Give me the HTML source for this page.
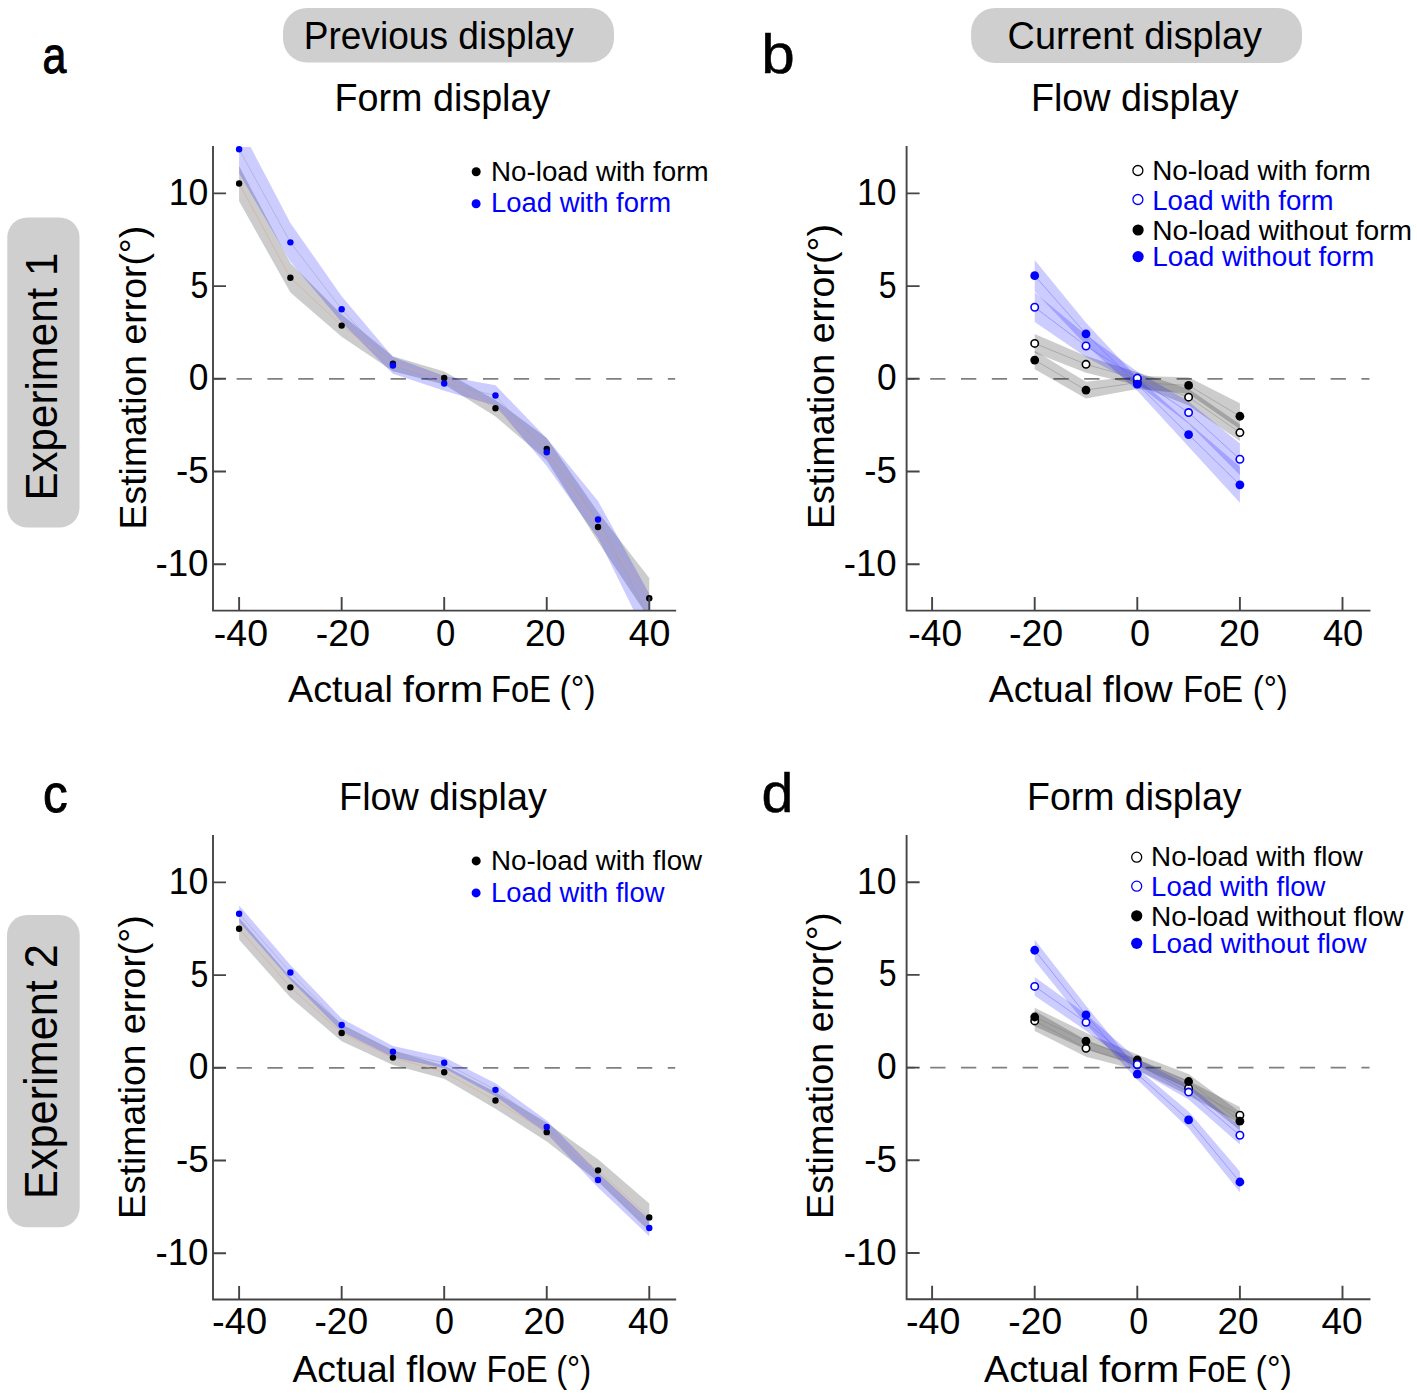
<!DOCTYPE html>
<html><head><meta charset="utf-8"><title>Figure</title>
<style>html,body{margin:0;padding:0;background:#fff;}svg{display:block;}text{font-family:"Liberation Sans",sans-serif;}</style>
</head><body>
<svg width="1417" height="1396" viewBox="0 0 1417 1396">
<rect width="1417" height="1396" fill="#fff"/>
<rect x="283" y="8" width="331" height="54.5" rx="24" fill="#cfcfcf"/>
<rect x="971.1" y="7.9" width="330.9" height="55.1" rx="24" fill="#cfcfcf"/>
<rect x="7.3" y="217.5" width="72.2" height="310.1" rx="20" fill="#cfcfcf"/>
<rect x="7.0" y="915.1" width="72.7" height="312.2" rx="20" fill="#cfcfcf"/>
<text x="-3.13" y="0" font-size="39.13" fill="#000000" transform="translate(306.6,48.9) scale(0.9483,1)">Previous display</text>
<text x="-1.97" y="0" font-size="39.42" fill="#000000" transform="translate(1009.5,48.9) scale(0.9596,1)">Current display</text>
<text x="-3.11" y="0" font-size="38.84" fill="#000000" transform="translate(337.6,110.9) scale(0.9705,1)">Form display</text>
<text x="-3.18" y="0" font-size="39.71" fill="#000000" transform="translate(1033.9,111.3) scale(0.9511,1)">Flow display</text>
<text x="-3.07" y="0" font-size="38.41" fill="#000000" transform="translate(342.1,810.3) scale(0.9829,1)">Flow display</text>
<text x="-3.11" y="0" font-size="38.84" fill="#000000" transform="translate(1030,810.4) scale(0.9650,1)">Form display</text>
<text x="-2.3" y="0" font-size="51.09" fill="#000000" stroke="#000000" stroke-width="1.0" stroke-linejoin="round" transform="translate(44.5,72.89) scale(0.8405,1)">a</text>
<text x="-3.66" y="0" font-size="56.33" fill="#000000" stroke="#000000" stroke-width="0.5" stroke-linejoin="round" transform="translate(765.25,73.09) scale(1.0692,1)">b</text>
<text x="-2.35" y="0" font-size="52.18" fill="#000000" stroke="#000000" stroke-width="1.0" stroke-linejoin="round" transform="translate(45.2,811.58) scale(0.9448,1)">c</text>
<text x="-2.25" y="0" font-size="56.19" fill="#000000" stroke="#000000" stroke-width="0.5" stroke-linejoin="round" transform="translate(763.75,811.79) scale(1.0203,1)">d</text>
<text x="-2.24" y="0" font-size="27.97" fill="#000000" transform="translate(493.2,180.5) scale(0.9930,1)">No-load with form</text>
<text x="-2.24" y="0" font-size="27.97" fill="#0000ff" transform="translate(493.2,212.4) scale(0.9816,1)">Load with form</text>
<text x="-2.24" y="0" font-size="27.97" fill="#000000" transform="translate(1154.4,180.1) scale(0.9977,1)">No-load with form</text>
<text x="-2.24" y="0" font-size="27.97" fill="#0000ff" transform="translate(1154.4,209.8) scale(0.9889,1)">Load with form</text>
<text x="-2.24" y="0" font-size="27.97" fill="#000000" transform="translate(1154.4,239.5) scale(1.0076,1)">No-load without form</text>
<text x="-2.24" y="0" font-size="27.97" fill="#0000ff" transform="translate(1154.4,265.5) scale(0.9995,1)">Load without form</text>
<text x="-2.24" y="0" font-size="27.97" fill="#000000" transform="translate(493.2,869.6) scale(0.9916,1)">No-load with flow</text>
<text x="-2.24" y="0" font-size="27.97" fill="#0000ff" transform="translate(493.2,902) scale(0.9789,1)">Load with flow</text>
<text x="-2.24" y="0" font-size="27.97" fill="#000000" transform="translate(1153.3,865.8) scale(0.9950,1)">No-load with flow</text>
<text x="-2.24" y="0" font-size="27.97" fill="#0000ff" transform="translate(1153.3,895.9) scale(0.9840,1)">Load with flow</text>
<text x="-2.24" y="0" font-size="27.97" fill="#000000" transform="translate(1153.3,926) scale(1.0022,1)">No-load without flow</text>
<text x="-2.24" y="0" font-size="27.97" fill="#0000ff" transform="translate(1153.3,952.6) scale(0.9973,1)">Load without flow</text>
<text x="-0.19" y="0" font-size="37.68" fill="#000000" transform="translate(288.2,701.6) scale(1.0008,1)">Actual</text>
<text x="-0.57" y="0" font-size="37.68" fill="#000000" transform="translate(403.4,701.6) scale(1.0684,1)">form</text>
<text x="-3.01" y="0" font-size="37.68" fill="#000000" transform="translate(493.7,701.6) scale(0.8675,1)">FoE</text>
<text x="-2.26" y="0" font-size="37.68" fill="#000000" transform="translate(561.5,701.6) scale(0.9015,1)">(°)</text>
<text x="-0.19" y="0" font-size="37.68" fill="#000000" transform="translate(988.9,701.8) scale(0.9940,1)">Actual</text>
<text x="-0.57" y="0" font-size="37.68" fill="#000000" transform="translate(1103.4,701.8) scale(1.0435,1)">flow</text>
<text x="-3.01" y="0" font-size="37.68" fill="#000000" transform="translate(1185.8,701.8) scale(0.8675,1)">FoE</text>
<text x="-2.26" y="0" font-size="37.68" fill="#000000" transform="translate(1254.7,701.8) scale(0.8706,1)">(°)</text>
<text x="-0.19" y="0" font-size="37.68" fill="#000000" transform="translate(292.7,1381.6) scale(0.9891,1)">Actual</text>
<text x="-0.57" y="0" font-size="37.68" fill="#000000" transform="translate(406.8,1381.6) scale(1.0435,1)">flow</text>
<text x="-3.01" y="0" font-size="37.68" fill="#000000" transform="translate(489.2,1381.6) scale(0.8846,1)">FoE</text>
<text x="-2.26" y="0" font-size="37.68" fill="#000000" transform="translate(558.1,1381.6) scale(0.8706,1)">(°)</text>
<text x="-0.19" y="0" font-size="37.68" fill="#000000" transform="translate(984.3,1381.6) scale(1.0008,1)">Actual</text>
<text x="-0.57" y="0" font-size="37.68" fill="#000000" transform="translate(1099.5,1381.6) scale(1.0684,1)">form</text>
<text x="-3.01" y="0" font-size="37.68" fill="#000000" transform="translate(1189.8,1381.6) scale(0.8675,1)">FoE</text>
<text x="-2.26" y="0" font-size="37.68" fill="#000000" transform="translate(1257.6,1381.6) scale(0.9015,1)">(°)</text>
<text x="-2.96" y="0" font-size="36.96" fill="#000000" transform="translate(146.1,526.4) rotate(-90) scale(1.0118,1)">Estimation error(°)</text>
<text x="-2.96" y="0" font-size="36.96" fill="#000000" transform="translate(833.8,526.1) rotate(-90) scale(1.0166,1)">Estimation error(°)</text>
<text x="-2.91" y="0" font-size="36.38" fill="#000000" transform="translate(145,1216) rotate(-90) scale(1.0279,1)">Estimation error(°)</text>
<text x="-2.97" y="0" font-size="37.1" fill="#000000" transform="translate(833,1215.9) rotate(-90) scale(1.0170,1)">Estimation error(°)</text>
<text x="-3.58" y="0" font-size="44.78" fill="#000000" transform="translate(57.2,497.1) rotate(-90) scale(0.9393,1)">Experiment 1</text>
<text x="-3.72" y="0" font-size="46.52" fill="#000000" transform="translate(57.2,1195.5) rotate(-90) scale(0.9296,1)">Experiment 2</text>
<clipPath id="clipa"><rect x="213" y="147" width="462.2" height="463.6"/></clipPath>
<line x1="213" y1="378.8" x2="675.2" y2="378.8" stroke="#808080" stroke-width="1.8" stroke-dasharray="15.3 15.5" stroke-dashoffset="7.2"/>
<g clip-path="url(#clipa)">
<polygon points="239.12,165.96 290.39,262.93 341.66,314.47 392.93,356.37 444.2,371.57 495.47,399.94 546.74,437.94 598.01,512.1 649.28,577.92 649.28,618.71 598.01,541.77 546.74,460.19 495.47,416.62 444.2,384.55 392.93,371.2 341.66,336.71 290.39,292.59 239.12,201.19" fill="#000000" fill-opacity="0.2"/>
<polygon points="239.12,125.17 290.39,222.88 341.66,296.3 392.93,357.11 444.2,376.02 495.47,385.29 546.74,438.31 598.01,500.98 649.28,593.86 649.28,642.07 598.01,538.06 546.74,466.12 495.47,405.68 444.2,390.85 392.93,373.79 341.66,322.25 290.39,261.81 239.12,173.38" fill="#0000ff" fill-opacity="0.2"/>
<polyline points="239.12,183.57 290.39,277.76 341.66,325.59 392.93,363.78 444.2,378.06 495.47,408.28 546.74,449.07 598.01,526.93 649.28,598.31" fill="none" stroke="#e8a080" stroke-opacity="0.5" stroke-width="1"/>
<polyline points="239.12,149.27 290.39,242.35 341.66,309.28 392.93,365.45 444.2,383.44 495.47,395.49 546.74,452.22 598.01,519.52 649.28,617.97" fill="none" stroke="#a0a0c0" stroke-opacity="0.5" stroke-width="1"/>
</g>
<circle cx="239.12" cy="183.57" r="3.2" fill="#000000"/>
<circle cx="290.39" cy="277.76" r="3.2" fill="#000000"/>
<circle cx="341.66" cy="325.59" r="3.2" fill="#000000"/>
<circle cx="392.93" cy="363.78" r="3.2" fill="#000000"/>
<circle cx="444.2" cy="378.06" r="3.2" fill="#000000"/>
<circle cx="495.47" cy="408.28" r="3.2" fill="#000000"/>
<circle cx="546.74" cy="449.07" r="3.2" fill="#000000"/>
<circle cx="598.01" cy="526.93" r="3.2" fill="#000000"/>
<circle cx="649.28" cy="598.31" r="3.2" fill="#000000"/>
<circle cx="239.12" cy="149.27" r="3.2" fill="#0000ff"/>
<circle cx="290.39" cy="242.35" r="3.2" fill="#0000ff"/>
<circle cx="341.66" cy="309.28" r="3.2" fill="#0000ff"/>
<circle cx="392.93" cy="365.45" r="3.2" fill="#0000ff"/>
<circle cx="444.2" cy="383.44" r="3.2" fill="#0000ff"/>
<circle cx="495.47" cy="395.49" r="3.2" fill="#0000ff"/>
<circle cx="546.74" cy="452.22" r="3.2" fill="#0000ff"/>
<circle cx="598.01" cy="519.52" r="3.2" fill="#0000ff"/>
<path d="M213,147V610.6H675.2" fill="none" stroke="#454545" stroke-width="1.9" stroke-linecap="square"/>
<path d="M239.12,610.6v-13.5M341.66,610.6v-13.5M444.2,610.6v-13.5M546.74,610.6v-13.5M649.28,610.6v-13.5M213,564.2h13M213,471.5h13M213,378.8h13M213,286.1h13M213,193.4h13" stroke="#454545" stroke-width="1.9" fill="none"/>
<text x="-1.65" y="0" font-size="36.71" transform="translate(215.5,645.7) scale(1.0214,1)">-40</text>
<text x="-1.65" y="0" font-size="36.71" transform="translate(317.5,645.7) scale(1.0214,1)">-20</text>
<text x="-1.47" y="0" font-size="36.71" transform="translate(437.3,645.7) scale(0.9461,1)">0</text>
<text x="-1.84" y="0" font-size="36.71" transform="translate(526.7,645.7) scale(0.9938,1)">20</text>
<text x="-0.92" y="0" font-size="36.71" transform="translate(629.6,645.7) scale(1.0246,1)">40</text>
<text x="-1.65" y="0" font-size="36.71" transform="translate(157.1,575.75) scale(0.9994,1)">-10</text>
<text x="-1.65" y="0" font-size="36.71" transform="translate(177.6,483.05) scale(1.0010,1)">-5</text>
<text x="-1.47" y="0" font-size="36.71" transform="translate(190.2,390.35) scale(0.9633,1)">0</text>
<text x="-1.47" y="0" font-size="36.71" transform="translate(191.8,297.65) scale(0.8716,1)">5</text>
<text x="-2.75" y="0" font-size="36.71" transform="translate(171.4,204.95) scale(0.9696,1)">10</text>
<clipPath id="clipb"><rect x="906.6" y="147" width="462.9" height="463.6"/></clipPath>
<line x1="906.6" y1="378.8" x2="1369.5" y2="378.8" stroke="#808080" stroke-width="1.8" stroke-dasharray="15.3 15.5" stroke-dashoffset="7.2"/>
<g clip-path="url(#clipb)">
<polygon points="1034.7,334.12 1086,356 1137.3,372.31 1188.6,388.81 1239.9,424.22 1239.9,440.91 1188.6,405.5 1137.3,385.29 1086,372.68 1034.7,352.66" fill="#000000" fill-opacity="0.2"/>
<polygon points="1034.7,350.8 1086,381.77 1137.3,376.02 1188.6,377.13 1239.9,403.27 1239.9,429.23 1188.6,393.82 1137.3,389 1086,398.45 1034.7,369.34" fill="#000000" fill-opacity="0.2"/>
<polygon points="1034.7,292.4 1086,334.86 1137.3,371.57 1188.6,401.42 1239.9,443.5 1239.9,475.02 1188.6,423.67 1137.3,384.55 1086,357.11 1034.7,322.07" fill="#0000ff" fill-opacity="0.2"/>
<polygon points="1034.7,259.96 1086,322.81 1137.3,377.69 1188.6,422.55 1239.9,466.87 1239.9,502.83 1188.6,446.66 1137.3,390.67 1086,345.06 1034.7,291.48" fill="#0000ff" fill-opacity="0.2"/>
<polyline points="1034.7,343.39 1086,364.34 1137.3,378.8 1188.6,397.15 1239.9,432.57" fill="none" stroke="#808080" stroke-opacity="0.45" stroke-width="1"/>
<polyline points="1034.7,360.07 1086,390.11 1137.3,382.51 1188.6,385.47 1239.9,416.25" fill="none" stroke="#808080" stroke-opacity="0.45" stroke-width="1"/>
<polyline points="1034.7,307.24 1086,345.98 1137.3,378.06 1188.6,412.54 1239.9,459.26" fill="none" stroke="#6060ff" stroke-opacity="0.45" stroke-width="1"/>
<polyline points="1034.7,275.72 1086,333.93 1137.3,384.18 1188.6,434.61 1239.9,484.85" fill="none" stroke="#6060ff" stroke-opacity="0.45" stroke-width="1"/>
</g>
<circle cx="1034.7" cy="343.39" r="3.7" fill="#fff" stroke="#000000" stroke-width="1.6"/>
<circle cx="1086" cy="364.34" r="3.7" fill="#fff" stroke="#000000" stroke-width="1.6"/>
<circle cx="1137.3" cy="378.8" r="3.7" fill="#fff" stroke="#000000" stroke-width="1.6"/>
<circle cx="1188.6" cy="397.15" r="3.7" fill="#fff" stroke="#000000" stroke-width="1.6"/>
<circle cx="1239.9" cy="432.57" r="3.7" fill="#fff" stroke="#000000" stroke-width="1.6"/>
<circle cx="1034.7" cy="360.07" r="4.4" fill="#000000"/>
<circle cx="1086" cy="390.11" r="4.4" fill="#000000"/>
<circle cx="1137.3" cy="382.51" r="4.4" fill="#000000"/>
<circle cx="1188.6" cy="385.47" r="4.4" fill="#000000"/>
<circle cx="1239.9" cy="416.25" r="4.4" fill="#000000"/>
<circle cx="1034.7" cy="307.24" r="3.7" fill="#fff" stroke="#0000ff" stroke-width="1.6"/>
<circle cx="1086" cy="345.98" r="3.7" fill="#fff" stroke="#0000ff" stroke-width="1.6"/>
<circle cx="1137.3" cy="378.06" r="3.7" fill="#fff" stroke="#0000ff" stroke-width="1.6"/>
<circle cx="1188.6" cy="412.54" r="3.7" fill="#fff" stroke="#0000ff" stroke-width="1.6"/>
<circle cx="1239.9" cy="459.26" r="3.7" fill="#fff" stroke="#0000ff" stroke-width="1.6"/>
<circle cx="1034.7" cy="275.72" r="4.4" fill="#0000ff"/>
<circle cx="1086" cy="333.93" r="4.4" fill="#0000ff"/>
<circle cx="1137.3" cy="384.18" r="4.4" fill="#0000ff"/>
<circle cx="1188.6" cy="434.61" r="4.4" fill="#0000ff"/>
<circle cx="1239.9" cy="484.85" r="4.4" fill="#0000ff"/>
<path d="M906.6,147V610.6H1369.5" fill="none" stroke="#454545" stroke-width="1.9" stroke-linecap="square"/>
<path d="M932.1,610.6v-13.5M1034.7,610.6v-13.5M1137.3,610.6v-13.5M1239.9,610.6v-13.5M1342.5,610.6v-13.5M906.6,564.2h13M906.6,471.5h13M906.6,378.8h13M906.6,286.1h13M906.6,193.4h13" stroke="#454545" stroke-width="1.9" fill="none"/>
<text x="-1.65" y="0" font-size="36.71" transform="translate(910,645.7) scale(1.0134,1)">-40</text>
<text x="-1.65" y="0" font-size="36.71" transform="translate(1010.6,645.7) scale(1.0234,1)">-20</text>
<text x="-1.47" y="0" font-size="36.71" transform="translate(1131.4,645.7) scale(0.9805,1)">0</text>
<text x="-1.84" y="0" font-size="36.71" transform="translate(1220.8,645.7) scale(0.9965,1)">20</text>
<text x="-0.92" y="0" font-size="36.71" transform="translate(1323.8,645.7) scale(0.9909,1)">40</text>
<text x="-1.65" y="0" font-size="36.71" transform="translate(845.4,575.75) scale(0.9994,1)">-10</text>
<text x="-1.65" y="0" font-size="36.71" transform="translate(865.9,483.05) scale(1.0010,1)">-5</text>
<text x="-1.47" y="0" font-size="36.71" transform="translate(878.5,390.35) scale(0.9633,1)">0</text>
<text x="-1.47" y="0" font-size="36.71" transform="translate(880.1,297.65) scale(0.8716,1)">5</text>
<text x="-2.75" y="0" font-size="36.71" transform="translate(859.7,204.95) scale(0.9696,1)">10</text>
<clipPath id="clipc"><rect x="213" y="836" width="462.2" height="463.5"/></clipPath>
<line x1="213" y1="1067.8" x2="675.2" y2="1067.8" stroke="#808080" stroke-width="1.8" stroke-dasharray="15.3 15.5" stroke-dashoffset="7.2"/>
<g clip-path="url(#clipc)">
<polygon points="239.12,917.63 290.39,977.14 341.66,1024.6 392.93,1050.19 444.2,1065.76 495.47,1092.09 546.74,1122.86 598.01,1159.2 649.28,1203.51 649.28,1231.32 598.01,1181.45 546.74,1141.4 495.47,1108.77 444.2,1078.74 392.93,1065.02 341.66,1041.29 290.39,997.53 239.12,939.87" fill="#000000" fill-opacity="0.2"/>
<polygon points="239.12,905.39 290.39,965.09 341.66,1018.48 392.93,1046.11 444.2,1057.23 495.47,1083.37 546.74,1120.45 598.01,1172.55 649.28,1219.64 649.28,1236.33 598.01,1187.38 546.74,1133.43 495.47,1096.35 444.2,1068.36 392.93,1057.23 341.66,1031.46 290.39,979.92 239.12,922.08" fill="#0000ff" fill-opacity="0.2"/>
<polyline points="239.12,928.75 290.39,987.34 341.66,1032.94 392.93,1057.6 444.2,1072.25 495.47,1100.43 546.74,1132.13 598.01,1170.33 649.28,1217.42" fill="none" stroke="#e8a080" stroke-opacity="0.5" stroke-width="1"/>
<polyline points="239.12,913.73 290.39,972.5 341.66,1024.97 392.93,1051.67 444.2,1062.79 495.47,1089.86 546.74,1126.94 598.01,1179.97 649.28,1227.99" fill="none" stroke="#a0a0c0" stroke-opacity="0.5" stroke-width="1"/>
</g>
<circle cx="239.12" cy="928.75" r="3.2" fill="#000000"/>
<circle cx="290.39" cy="987.34" r="3.2" fill="#000000"/>
<circle cx="341.66" cy="1032.94" r="3.2" fill="#000000"/>
<circle cx="392.93" cy="1057.6" r="3.2" fill="#000000"/>
<circle cx="444.2" cy="1072.25" r="3.2" fill="#000000"/>
<circle cx="495.47" cy="1100.43" r="3.2" fill="#000000"/>
<circle cx="546.74" cy="1132.13" r="3.2" fill="#000000"/>
<circle cx="598.01" cy="1170.33" r="3.2" fill="#000000"/>
<circle cx="649.28" cy="1217.42" r="3.2" fill="#000000"/>
<circle cx="239.12" cy="913.73" r="3.2" fill="#0000ff"/>
<circle cx="290.39" cy="972.5" r="3.2" fill="#0000ff"/>
<circle cx="341.66" cy="1024.97" r="3.2" fill="#0000ff"/>
<circle cx="392.93" cy="1051.67" r="3.2" fill="#0000ff"/>
<circle cx="444.2" cy="1062.79" r="3.2" fill="#0000ff"/>
<circle cx="495.47" cy="1089.86" r="3.2" fill="#0000ff"/>
<circle cx="546.74" cy="1126.94" r="3.2" fill="#0000ff"/>
<circle cx="598.01" cy="1179.97" r="3.2" fill="#0000ff"/>
<circle cx="649.28" cy="1227.99" r="3.2" fill="#0000ff"/>
<path d="M213,836V1299.5H675.2" fill="none" stroke="#454545" stroke-width="1.9" stroke-linecap="square"/>
<path d="M239.12,1299.5v-13.5M341.66,1299.5v-13.5M444.2,1299.5v-13.5M546.74,1299.5v-13.5M649.28,1299.5v-13.5M213,1253.2h13M213,1160.5h13M213,1067.8h13M213,975.1h13M213,882.4h13" stroke="#454545" stroke-width="1.9" fill="none"/>
<text x="-1.65" y="0" font-size="36.57" transform="translate(213.8,1334.4) scale(1.0415,1)">-40</text>
<text x="-1.65" y="0" font-size="36.57" transform="translate(316.1,1334.4) scale(1.0173,1)">-20</text>
<text x="-1.46" y="0" font-size="36.57" transform="translate(436.4,1334.4) scale(0.9326,1)">0</text>
<text x="-1.83" y="0" font-size="36.57" transform="translate(525.4,1334.4) scale(1.0164,1)">20</text>
<text x="-0.91" y="0" font-size="36.57" transform="translate(629,1334.4) scale(1.0078,1)">40</text>
<text x="-1.65" y="0" font-size="36.71" transform="translate(157.1,1264.75) scale(0.9994,1)">-10</text>
<text x="-1.65" y="0" font-size="36.71" transform="translate(177.6,1172.05) scale(1.0010,1)">-5</text>
<text x="-1.47" y="0" font-size="36.71" transform="translate(190.2,1079.35) scale(0.9633,1)">0</text>
<text x="-1.47" y="0" font-size="36.71" transform="translate(191.8,986.65) scale(0.8716,1)">5</text>
<text x="-2.75" y="0" font-size="36.71" transform="translate(171.4,893.95) scale(0.9696,1)">10</text>
<clipPath id="clipd"><rect x="906.6" y="836" width="462.9" height="463.3"/></clipPath>
<line x1="906.6" y1="1067.6" x2="1369.5" y2="1067.6" stroke="#808080" stroke-width="1.8" stroke-dasharray="15.3 15.5" stroke-dashoffset="7.2"/>
<g clip-path="url(#clipd)">
<polygon points="1034.7,1010.87 1086,1039.98 1137.3,1058.89 1188.6,1080.76 1239.9,1106.9 1239.9,1123.59 1188.6,1095.6 1137.3,1070.01 1086,1056.66 1034.7,1030.89" fill="#000000" fill-opacity="0.2"/>
<polygon points="1034.7,1007.72 1086,1032.74 1137.3,1054.44 1188.6,1074.09 1239.9,1111.91 1239.9,1130.45 1188.6,1088.92 1137.3,1065.56 1086,1049.43 1034.7,1026.26" fill="#000000" fill-opacity="0.2"/>
<polygon points="1034.7,977.12 1086,1014.02 1137.3,1058.89 1188.6,1084.66 1239.9,1126 1239.9,1144.54 1188.6,1099.49 1137.3,1070.01 1086,1030.71 1034.7,995.66" fill="#0000ff" fill-opacity="0.2"/>
<polygon points="1034.7,939.67 1086,1005.68 1137.3,1068.53 1188.6,1111.54 1239.9,1171.61 1239.9,1192.37 1188.6,1128.23 1137.3,1079.65 1086,1024.22 1034.7,960.81" fill="#0000ff" fill-opacity="0.2"/>
<polyline points="1034.7,1020.88 1086,1048.32 1137.3,1064.45 1188.6,1088.18 1239.9,1115.25" fill="none" stroke="#808080" stroke-opacity="0.45" stroke-width="1"/>
<polyline points="1034.7,1016.99 1086,1041.09 1137.3,1060 1188.6,1081.5 1239.9,1121.18" fill="none" stroke="#808080" stroke-opacity="0.45" stroke-width="1"/>
<polyline points="1034.7,986.39 1086,1022.36 1137.3,1064.45 1188.6,1092.07 1239.9,1135.27" fill="none" stroke="#6060ff" stroke-opacity="0.45" stroke-width="1"/>
<polyline points="1034.7,950.24 1086,1014.95 1137.3,1074.09 1188.6,1119.88 1239.9,1181.99" fill="none" stroke="#6060ff" stroke-opacity="0.45" stroke-width="1"/>
</g>
<circle cx="1034.7" cy="1020.88" r="3.7" fill="#fff" stroke="#000000" stroke-width="1.6"/>
<circle cx="1086" cy="1048.32" r="3.7" fill="#fff" stroke="#000000" stroke-width="1.6"/>
<circle cx="1137.3" cy="1064.45" r="3.7" fill="#fff" stroke="#000000" stroke-width="1.6"/>
<circle cx="1188.6" cy="1088.18" r="3.7" fill="#fff" stroke="#000000" stroke-width="1.6"/>
<circle cx="1239.9" cy="1115.25" r="3.7" fill="#fff" stroke="#000000" stroke-width="1.6"/>
<circle cx="1034.7" cy="1016.99" r="4.4" fill="#000000"/>
<circle cx="1086" cy="1041.09" r="4.4" fill="#000000"/>
<circle cx="1137.3" cy="1060" r="4.4" fill="#000000"/>
<circle cx="1188.6" cy="1081.5" r="4.4" fill="#000000"/>
<circle cx="1239.9" cy="1121.18" r="4.4" fill="#000000"/>
<circle cx="1034.7" cy="986.39" r="3.7" fill="#fff" stroke="#0000ff" stroke-width="1.6"/>
<circle cx="1086" cy="1022.36" r="3.7" fill="#fff" stroke="#0000ff" stroke-width="1.6"/>
<circle cx="1137.3" cy="1064.45" r="3.7" fill="#fff" stroke="#0000ff" stroke-width="1.6"/>
<circle cx="1188.6" cy="1092.07" r="3.7" fill="#fff" stroke="#0000ff" stroke-width="1.6"/>
<circle cx="1239.9" cy="1135.27" r="3.7" fill="#fff" stroke="#0000ff" stroke-width="1.6"/>
<circle cx="1034.7" cy="950.24" r="4.4" fill="#0000ff"/>
<circle cx="1086" cy="1014.95" r="4.4" fill="#0000ff"/>
<circle cx="1137.3" cy="1074.09" r="4.4" fill="#0000ff"/>
<circle cx="1188.6" cy="1119.88" r="4.4" fill="#0000ff"/>
<circle cx="1239.9" cy="1181.99" r="4.4" fill="#0000ff"/>
<path d="M906.6,836V1299.3H1369.5" fill="none" stroke="#454545" stroke-width="1.9" stroke-linecap="square"/>
<path d="M932.1,1299.3v-13.5M1034.7,1299.3v-13.5M1137.3,1299.3v-13.5M1239.9,1299.3v-13.5M1342.5,1299.3v-13.5M906.6,1253h13M906.6,1160.3h13M906.6,1067.6h13M906.6,974.9h13M906.6,882.2h13" stroke="#454545" stroke-width="1.9" fill="none"/>
<text x="-1.65" y="0" font-size="36.57" transform="translate(907.7,1334.4) scale(1.0274,1)">-40</text>
<text x="-1.65" y="0" font-size="36.57" transform="translate(1010,1334.4) scale(1.0173,1)">-20</text>
<text x="-1.46" y="0" font-size="36.57" transform="translate(1130.5,1334.4) scale(0.9326,1)">0</text>
<text x="-1.83" y="0" font-size="36.57" transform="translate(1219.4,1334.4) scale(1.0111,1)">20</text>
<text x="-0.91" y="0" font-size="36.57" transform="translate(1322.4,1334.4) scale(1.0130,1)">40</text>
<text x="-1.65" y="0" font-size="36.71" transform="translate(845.4,1264.55) scale(0.9994,1)">-10</text>
<text x="-1.65" y="0" font-size="36.71" transform="translate(865.9,1171.85) scale(1.0010,1)">-5</text>
<text x="-1.47" y="0" font-size="36.71" transform="translate(878.5,1079.15) scale(0.9633,1)">0</text>
<text x="-1.47" y="0" font-size="36.71" transform="translate(880.1,986.45) scale(0.8716,1)">5</text>
<text x="-2.75" y="0" font-size="36.71" transform="translate(859.7,893.75) scale(0.9696,1)">10</text>
<circle cx="476.2" cy="171.8" r="4.5" fill="#000000"/>
<circle cx="476.1" cy="203.8" r="4.5" fill="#0000ff"/>
<circle cx="1137.9" cy="170.5" r="5.0" fill="#fff" stroke="#000000" stroke-width="1.3"/>
<circle cx="1137.9" cy="199.5" r="5.0" fill="#fff" stroke="#0000ff" stroke-width="1.3"/>
<circle cx="1138.1" cy="230.0" r="5.6" fill="#000000"/>
<circle cx="1138.1" cy="256.6" r="5.6" fill="#0000ff"/>
<circle cx="476.2" cy="860.9" r="4.5" fill="#000000"/>
<circle cx="476.1" cy="892.9" r="4.5" fill="#0000ff"/>
<circle cx="1136.7" cy="857.2" r="5.0" fill="#fff" stroke="#000000" stroke-width="1.3"/>
<circle cx="1136.7" cy="886.2" r="5.0" fill="#fff" stroke="#0000ff" stroke-width="1.3"/>
<circle cx="1136.7" cy="915.8" r="5.6" fill="#000000"/>
<circle cx="1136.7" cy="943.3" r="5.6" fill="#0000ff"/>
</svg>
</body></html>
